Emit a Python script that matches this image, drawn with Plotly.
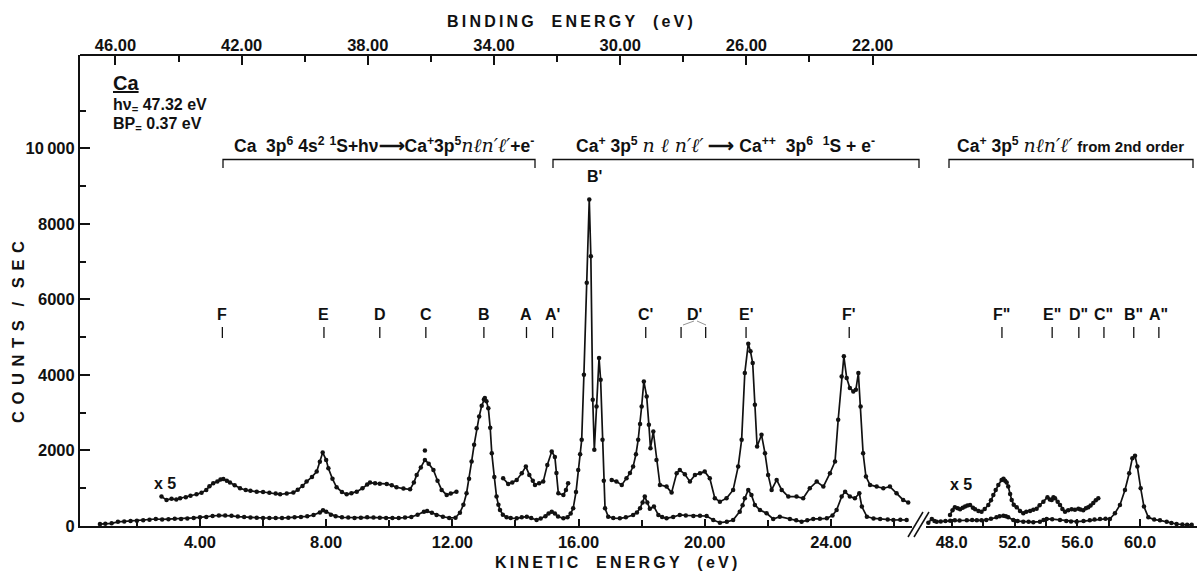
import plotly.graph_objects as go

# ---------------- data ----------------
# main (x1) spectrum, first segment: kinetic energy (eV), counts/sec
ke_low1 = [0.83, 1.0, 1.2, 1.4, 1.6, 1.8, 2.0, 2.2, 2.4, 2.6, 2.8, 3.0, 3.2, 3.4, 3.6, 3.8, 4.0, 4.2, 4.4, 4.6,
           4.8, 5.0, 5.2, 5.4, 5.6, 5.8, 6.0, 6.2, 6.4, 6.6, 6.8, 7.0, 7.2, 7.4, 7.6, 7.8, 7.9, 8.0, 8.15, 8.3,
           8.5, 8.7, 8.9, 9.1, 9.3, 9.5, 9.7, 9.9, 10.1, 10.3, 10.5, 10.7, 10.9, 11.1, 11.2, 11.35, 11.5, 11.7, 11.9, 12.1,
           12.24, 12.35, 12.45, 12.53, 12.61, 12.69, 12.77, 12.85, 12.93, 13.0, 13.03, 13.08, 13.14, 13.2, 13.25, 13.33, 13.4, 13.46, 13.51, 13.6,
           13.72, 13.85, 14.04, 14.2, 14.36, 14.5, 14.67, 14.8, 14.95, 15.05, 15.15, 15.25, 15.35, 15.52, 15.65, 15.75, 15.83, 15.92, 15.99, 16.05,
           16.1, 16.17, 16.26, 16.34, 16.39, 16.45, 16.5, 16.57, 16.65, 16.7, 16.76, 16.8, 16.84, 16.94, 17.1, 17.31, 17.5, 17.73, 17.85, 17.95,
           18.03, 18.1, 18.18, 18.26, 18.39, 18.53, 18.65, 18.79, 19.0, 19.21, 19.4, 19.64, 19.85, 20.06, 20.27, 20.48, 20.7, 20.9, 21.11, 21.2,
           21.27, 21.38, 21.48, 21.59, 21.75, 21.96, 22.17, 22.38, 22.7, 22.9, 23.07, 23.25, 23.44, 23.65, 23.87, 24.05, 24.18, 24.34, 24.45, 24.6,
           24.76, 24.9, 24.98, 25.14, 25.35, 25.56, 25.8, 25.98, 26.2, 26.4]
cnt_low1 = [50, 60, 70, 110, 120, 130, 140, 150, 165, 185, 175, 180, 190, 185, 200, 215, 230, 240, 265, 280,
            280, 270, 250, 235, 225, 220, 215, 210, 215, 212, 220, 230, 240, 255, 290, 360, 420, 380, 300, 260,
            230, 225, 215, 220, 230, 225, 220, 215, 212, 210, 225, 240, 300, 380, 395, 350, 290, 245, 215, 220,
            354, 560, 867, 1250, 1706, 2150, 2590, 2900, 3183, 3350, 3387, 3300, 3120, 2600, 1928, 1300, 778, 560, 424, 300,
            230, 210, 203, 230, 247, 210, 159, 200, 260, 330, 380, 330, 250, 203, 230, 330, 469, 900, 1485, 1900,
            2281, 4005, 6437, 8647, 7143, 3342, 2016, 3164, 4447, 3873, 2281, 1200, 469, 247, 210, 203, 230, 292, 360, 469,
            620, 778, 620, 460, 513, 292, 240, 203, 240, 292, 280, 265, 270, 265, 159, 88, 110, 159, 380, 550,
            734, 955, 822, 557, 424, 336, 186, 248, 186, 150, 115, 150, 186, 190, 203, 280, 424, 778, 910, 778,
            734, 867, 513, 248, 200, 186, 170, 159, 165, 159]

# x5 magnified spectrum, first segment (three pieces)
ke_x5a = [2.78, 2.94, 3.1, 3.25, 3.37, 3.55, 3.7, 3.89, 4.05, 4.2, 4.3, 4.42, 4.55, 4.65, 4.74, 4.85, 4.95, 5.1, 5.27, 5.45,
          5.6, 5.8, 6.0, 6.2, 6.4, 6.54, 6.75, 6.96, 7.1, 7.25, 7.38, 7.55, 7.7, 7.8, 7.89, 8.0, 8.07, 8.2, 8.33, 8.5,
          8.65, 8.8, 8.97, 9.15, 9.3, 9.39, 9.55, 9.7, 9.92, 10.08, 10.23, 10.45, 10.66, 10.78, 10.87, 11.0, 11.13, 11.25, 11.4, 11.53,
          11.66, 11.82, 11.95, 12.13]
cnt_x5a = [778, 690, 720, 700, 734, 760, 800, 840, 880, 955, 1050, 1132, 1180, 1230, 1247, 1200, 1150, 1080, 1000, 950,
           930, 910, 900, 880, 860, 840, 860, 884, 960, 1060, 1175, 1300, 1440, 1700, 1945, 1750, 1530, 1250, 1026, 900,
           840, 870, 910, 1000, 1100, 1150, 1130, 1120, 1114, 1080, 1026, 990, 973, 1150, 1353, 1550, 1750, 1650, 1485, 1200,
           955, 822, 860, 910]
ke_x5b = [13.61, 13.77, 13.9, 14.04, 14.2, 14.33, 14.44, 14.55, 14.62, 14.75, 14.88, 15.01, 15.15, 15.25, 15.3, 15.36, 15.52, 15.6, 15.67]
cnt_x5b = [1265, 1114, 1150, 1220, 1397, 1573, 1353, 1200, 1087, 1130, 1175, 1618, 1971, 1830, 1400, 867, 822, 950, 1132]
ke_x5c = [17.05, 17.2, 17.37, 17.52, 17.63, 17.73, 17.82, 17.89, 17.95, 18.0, 18.07, 18.16, 18.23, 18.28, 18.37, 18.47, 18.58, 18.79, 18.95, 19.11,
          19.21, 19.37, 19.53, 19.69, 19.85, 20.0, 20.16, 20.32, 20.48, 20.69, 20.9, 21.06, 21.17, 21.27, 21.38, 21.45, 21.52, 21.59, 21.66, 21.8,
          21.91, 22.01, 22.12, 22.28, 22.44, 22.65, 22.91, 23.12, 23.33, 23.55, 23.76, 23.97, 24.13, 24.23, 24.34, 24.41, 24.5, 24.6, 24.71, 24.79,
          24.87, 24.94, 25.02, 25.11, 25.24, 25.45, 25.66, 25.87, 26.08, 26.29, 26.45]
cnt_x5c = [1220, 1175, 1087, 1265, 1400, 1573, 1900, 2281, 2700, 3164, 3828, 3430, 2679, 2060, 2502, 1750, 1087, 1043, 884, 1397,
           1485, 1370, 1175, 1353, 1397, 1440, 1265, 734, 645, 734, 955, 1573, 2281, 4050, 4828, 4624, 4315, 3210, 2104, 2414,
           1928, 1353, 955, 1220, 955, 778, 778, 734, 1000, 1175, 1043, 1397, 1706, 2812, 3961, 4491, 3917, 3652, 3563, 3607,
           4050, 3164, 1928, 1308, 1087, 1043, 1000, 1043, 867, 690, 619]
ke_stray = [11.13]
cnt_stray = [2000]

# second-order segment
ke_low2 = [46.51, 46.73, 46.9, 47.04, 47.3, 47.6, 47.9, 48.2, 48.5, 48.96, 49.3, 49.6, 49.9, 50.2, 50.5, 50.85, 51.05, 51.29, 51.45, 51.6,
           51.92, 52.2, 52.56, 52.9, 53.2, 53.62, 53.85, 54.05, 54.4, 54.9, 55.3, 55.6, 55.96, 56.4, 56.8, 57.1, 57.45, 57.8, 58.08, 58.4,
           58.72, 59.04, 59.31, 59.51, 59.68, 59.83, 60.04, 60.25, 60.53, 60.9, 61.27, 61.7, 62.0, 62.33, 62.7, 63.0, 63.29]
cnt_low2 = [88, 186, 130, 115, 120, 130, 140, 150, 145, 150, 160, 155, 150, 160, 190, 230, 260, 274, 260, 230,
            160, 130, 115, 110, 100, 115, 160, 186, 180, 160, 130, 120, 115, 130, 150, 170, 186, 190, 186, 336,
            557, 955, 1397, 1795, 1857, 1573, 1000, 513, 230, 170, 150, 110, 80, 53, 40, 35, 30]
ke_x5d = [47.89, 48.05, 48.2, 48.38, 48.53, 48.7, 48.85, 49.0, 49.17, 49.35, 49.49, 49.7, 49.9, 50.1, 50.33, 50.5, 50.65, 50.8, 50.97, 51.18,
          51.3, 51.4, 51.5, 51.6, 51.72, 51.82, 51.95, 52.14, 52.35, 52.56, 52.75, 52.99, 53.2, 53.41, 53.6, 53.84, 54.1, 54.25, 54.37, 54.48,
          54.58, 54.75, 54.9, 55.05, 55.22, 55.42, 55.64, 55.85, 56.07, 56.2, 56.38, 56.55, 56.7, 56.85, 57.02, 57.18, 57.34]
cnt_x5d = [292, 420, 495, 470, 442, 480, 513, 540, 557, 480, 442, 400, 380, 450, 557, 680, 822, 950, 1087, 1220,
           1250, 1200, 1150, 1043, 850, 690, 560, 495, 400, 336, 380, 400, 430, 460, 550, 645, 760, 700, 690, 760,
           735, 640, 557, 450, 380, 420, 442, 430, 460, 440, 420, 470, 495, 540, 610, 680, 734]

# axis ticks
ke_ticks1 = [4, 8, 12, 16, 20, 24]
ke_ticktext1 = ["4.00", "8.00", "12.00", "16.00", "20.00", "24.00"]
ke_minor1 = [2, 6, 10, 14, 18, 22, 26]
ke_ticks2 = [48, 52, 56, 60]
ke_ticktext2 = ["48.0", "52.0", "56.0", "60.0"]
ke_minor2 = [50, 54, 58]
be_ticks = [46, 42, 38, 34, 30, 26, 22]
be_ticktext = ["46.00", "42.00", "38.00", "34.00", "30.00", "26.00", "22.00"]
be_minor = [44, 40, 36, 32, 28, 24]
y_ticks = [0, 2000, 4000, 6000, 8000, 10000]
y_ticktext = ["0", "2000", "4000", "6000", "8000", "10\u2009000"]
y_minor = [1000, 3000, 5000, 7000, 9000, 11000]
photon_energy = 47.32

# peak labels
peak_names1 = ["F", "E", "D", "C", "B", "A", "A'", "C'", "E'", "F'"]
peak_pos1 = [4.71, 7.93, 9.70, 11.16, 13.0, 14.35, 15.18, 18.13, 21.31, 24.58]
dprime_label_pos = 19.66
dprime_ticks = [19.25, 20.03]
peak_names2 = ['F"', 'E"', 'D"', 'C"', 'B"', 'A"']
peak_pos2 = [51.2, 54.4, 56.1, 57.7, 59.6, 61.2]

# ---------------- layout geometry ----------------
W, H = 1200, 571
L, R, T, B = 80, 3, 55, 45
PW, PH = W - L - R, H - T - B
KE1_RANGE = [0.197, 26.57]
KE2_RANGE = [46.36, 63.63]
SEG1_END_PX, SEG2_START_PX = 912, 926
Y_RANGE = [0, 12470]


def px(x):
    return (x - L) / PW


def py(y):
    return (H - B - y) / PH


FONT = "Liberation Sans, Arial, Helvetica, sans-serif"
SCRIPT = "font-family:DejaVu Serif;font-style:italic;font-weight:normal;font-size:19px"
BLACK = "#111"

fig = go.Figure()
line_style = dict(color=BLACK, width=1.7)
mk = dict(color=BLACK, size=4.5)

fig.add_trace(go.Scatter(x=ke_low1, y=cnt_low1, mode="lines+markers", line=line_style, marker=mk, xaxis="x", yaxis="y"))
for kx, cy in [(ke_x5a, cnt_x5a), (ke_x5b, cnt_x5b), (ke_x5c, cnt_x5c)]:
    fig.add_trace(go.Scatter(x=kx, y=cy, mode="lines+markers", line=line_style, marker=mk, xaxis="x", yaxis="y"))
fig.add_trace(go.Scatter(x=ke_stray, y=cnt_stray, mode="markers", marker=mk, xaxis="x", yaxis="y"))
fig.add_trace(go.Scatter(x=ke_low2, y=cnt_low2, mode="lines+markers", line=line_style, marker=mk, xaxis="x2", yaxis="y"))
fig.add_trace(go.Scatter(x=ke_x5d, y=cnt_x5d, mode="lines+markers", line=line_style, marker=mk, xaxis="x2", yaxis="y"))

d1 = px(SEG1_END_PX)
d2 = px(SEG2_START_PX)
tickfont = dict(family=FONT, size=16.5, color=BLACK, weight="bold")
common = dict(showgrid=False, zeroline=False, showline=True, linecolor=BLACK, linewidth=2,
              ticks="inside", tickcolor=BLACK, tickwidth=1.5, ticklen=7, tickfont=tickfont)

fig.update_layout(
    width=W, height=H, margin=dict(l=L, r=R, t=T, b=B),
    paper_bgcolor="white", plot_bgcolor="rgba(0,0,0,0)",
    showlegend=False, hovermode=False,
    xaxis=dict(domain=[0, d1], range=KE1_RANGE, anchor="y", tickmode="array",
               tickvals=ke_ticks1, ticktext=ke_ticktext1,
               minor=dict(tickmode="array", tickvals=ke_minor1, ticks="inside", ticklen=6, tickwidth=1.5, tickcolor=BLACK),
               **common),
    xaxis2=dict(domain=[d2, 1], range=KE2_RANGE, anchor="y", tickmode="array",
                tickvals=ke_ticks2, ticktext=ke_ticktext2,
                minor=dict(tickmode="array", tickvals=ke_minor2, ticks="inside", ticklen=6, tickwidth=1.5, tickcolor=BLACK),
                **common),
    xaxis3=dict(overlaying="x", side="top", anchor="y",
                range=[photon_energy - KE1_RANGE[0], photon_energy - KE1_RANGE[1]],
                tickmode="array", tickvals=be_ticks, ticktext=be_ticktext,
                minor=dict(tickmode="array", tickvals=be_minor, ticks="inside", ticklen=7, tickwidth=1.5, tickcolor=BLACK),
                showgrid=False, zeroline=False, showline=False,
                ticks="inside", tickcolor=BLACK, tickwidth=1.5, ticklen=10, tickfont=tickfont),
    yaxis=dict(domain=[0, 1], range=Y_RANGE, anchor="x", tickmode="array",
               tickvals=y_ticks, ticktext=y_ticktext,
               minor=dict(tickmode="array", tickvals=y_minor, ticks="inside", ticklen=6, tickwidth=1.5, tickcolor=BLACK),
               showgrid=False, zeroline=False, showline=True, linecolor=BLACK, linewidth=2,
               ticks="inside", tickcolor=BLACK, tickwidth=1.5, ticklen=10,
               tickfont=dict(family=FONT, size=16.5, color=BLACK, weight="bold")),
)
# invisible trace so the top axis is drawn
fig.add_trace(go.Scatter(x=[30], y=[0], mode="markers", marker=dict(opacity=0), xaxis="x3", yaxis="y"))

shapes = []
# top frame line across the full width
shapes.append(dict(type="line", xref="paper", yref="paper", x0=0, x1=1, y0=1, y1=1, line=dict(color=BLACK, width=2)))
# axis break marks
for x0, x1 in [(908, 923), (914, 929)]:
    shapes.append(dict(type="line", xref="paper", yref="paper", x0=px(x0), y0=py(537), x1=px(x1), y1=py(512),
                       line=dict(color=BLACK, width=1.5)))
# brackets
for xa, xb in [(223, 535), (553, 919), (949, 1193)]:
    shapes.append(dict(type="path", xref="paper", yref="paper",
                       path=f"M {px(xa)},{py(168)} L {px(xa)},{py(159.5)} L {px(xb)},{py(159.5)} L {px(xb)},{py(168)}",
                       line=dict(color=BLACK, width=1.3)))
# peak tick marks
for p in peak_pos1 + dprime_ticks:
    shapes.append(dict(type="line", xref="x", yref="paper", x0=p, x1=p, y0=py(338), y1=py(327), line=dict(color=BLACK, width=1.3)))
for p in peak_pos2:
    shapes.append(dict(type="line", xref="x2", yref="paper", x0=p, x1=p, y0=py(338), y1=py(327), line=dict(color=BLACK, width=1.3)))
# D' tent
shapes.append(dict(type="path", xref="paper", yref="paper",
                   path=f"M {px(683)},{py(325)} L {px(694)},{py(321)} M {px(697)},{py(321)} L {px(706)},{py(325)}",
                   line=dict(color="#777", width=0.8)))

ann = []


def A(text, x, y, size=16, xanchor="center", yanchor="middle", xref="paper", textangle=0, bold=True):
    ann.append(dict(text=text, x=x, y=y, xref=xref, yref="paper", xanchor=xanchor, yanchor=yanchor,
                    showarrow=False, textangle=textangle,
                    font=dict(family=FONT, size=size, color=BLACK, weight="bold" if bold else "normal")))


ts = "\u2009"
nb = "\u00a0"
A(ts.join("BINDING") + nb * 4 + ts.join("ENERGY") + nb * 4 + ts.join("(eV)"), px(570), py(21), size=16)
A(ts.join("KINETIC") + nb * 4 + ts.join("ENERGY") + nb * 4 + ts.join("(eV)"), px(616), py(562), size=16)
A((ts * 2).join("COUNTS") + nb * 3 + "/" + nb * 3 + (ts * 2).join("SEC"), px(18), py(332), size=16.5, textangle=-90)

A("<u>Ca</u>", px(111), py(83), size=20, xanchor="left")
A("hν<sub>=</sub> 47.32 eV", px(111), py(105.5), size=16, xanchor="left")
A("BP<sub>=</sub> 0.37 eV", px(111), py(124.5), size=16, xanchor="left")

nl = f"<span style='{SCRIPT}'>nℓn′ℓ′</span>"
nl2 = f"<span style='{SCRIPT}'>n ℓ n′ℓ′</span>"
A(f"Ca{nb}{nb}3p<sup>6</sup> 4s<sup>2</sup> <sup>1</sup>S+hν⟶Ca<sup>+</sup>3p<sup>5</sup>{nl}+e<sup>-</sup>",
  px(232), py(145), size=17.5, xanchor="left")
A(f"Ca<sup>+</sup> 3p<sup>5</sup> {nl2} ⟶ Ca<sup>++</sup>{nb}{nb}3p<sup>6</sup>{nb}{nb}<sup>1</sup>S + e<sup>-</sup>",
  px(574), py(145), size=17.5, xanchor="left")
A(f"Ca<sup>+</sup>{nb}3p<sup>5</sup> {nl} <span style='font-size:15px'>from 2nd order</span>",
  px(955), py(145), size=17.5, xanchor="left")

for name, p in zip(peak_names1, peak_pos1):
    A(name, p, py(314), size=16, xref="x")
A("D'", dprime_label_pos, py(314), size=16, xref="x")
for name, p in zip(peak_names2, peak_pos2):
    A(name, p, py(314), size=16, xref="x2")
A("B'", px(594), py(176), size=16)
A("x 5", px(165), py(483), size=16)
A("x 5", px(961), py(484), size=16)

fig.update_layout(shapes=shapes, annotations=ann)
fig.write_html("out.html")
